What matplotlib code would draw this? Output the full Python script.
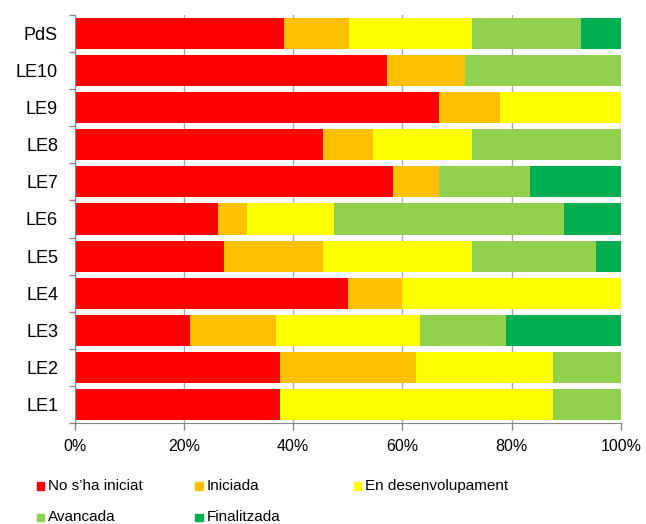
import numpy as np
import matplotlib
matplotlib.use("Agg")
from matplotlib import pyplot as plt
from matplotlib.patches import Rectangle

plt.rcParams['font.family'] = ['Liberation Sans', 'DejaVu Sans']

# categories from bottom to top
categories = ['LE1', 'LE2', 'LE3', 'LE4', 'LE5', 'LE6', 'LE7', 'LE8', 'LE9', 'LE10', 'PdS']
series = ['No s\u2019ha iniciat', 'Iniciada', 'En desenvolupament', 'Avancada', 'Finalitzada']
colors = ['#FF0000', '#FFC000', '#FFFF00', '#92D050', '#00B050']

no_iniciat = [37.5, 37.5, 21.1, 50.0, 27.3, 26.3, 58.3, 45.5, 66.7, 57.1, 38.3]
iniciada = [0.0, 25.0, 15.8, 10.0, 18.2, 5.3, 8.3, 9.1, 11.1, 14.3, 12.0]
desenvolupament = [50.0, 25.0, 26.3, 40.0, 27.3, 15.8, 0.0, 18.2, 22.2, 0.0, 22.4]
avancada = [12.5, 12.5, 15.8, 0.0, 22.7, 42.1, 16.7, 27.3, 0.0, 28.6, 20.0]
finalitzada = [0.0, 0.0, 21.1, 0.0, 4.5, 10.5, 16.7, 0.0, 0.0, 0.0, 7.3]
x_ticks = [0, 20, 40, 60, 80, 100]

values = [no_iniciat, iniciada, desenvolupament, avancada, finalitzada]

fig = plt.figure(figsize=(6.46, 5.24), dpi=100)
ax = fig.add_axes([0.1156, 0.1922, 0.8457, 0.7798])

y = np.arange(len(categories))
left = np.zeros(len(categories))
for vals, col, name in zip(values, colors, series):
    ax.barh(y, vals, left=left, height=0.84, color=col, label=name, zorder=2)
    left = left + np.array(vals)

ax.set_xlim(0, 100)
ax.set_ylim(-0.5, len(categories) - 0.5)
ax.set_xticks(x_ticks)
ax.set_xticklabels(['%d%%' % t for t in x_ticks], fontsize=11.5)
ax.set_yticks(y)
ax.set_yticklabels(categories, fontsize=13)
ax.set_yticks(np.arange(-0.5, len(categories)), minor=True)
ax.tick_params(axis='y', which='major', length=0, pad=12)
ax.tick_params(axis='y', which='minor', length=4, color='#888888', width=1)
ax.tick_params(axis='x', which='major', length=5, color='#888888', width=1, pad=6)
ax.grid(axis='x', color='#aaaaaa', linewidth=1, zorder=0)
ax.set_axisbelow(True)
for s in ['top', 'right']:
    ax.spines[s].set_visible(False)
for s in ['left', 'bottom']:
    ax.spines[s].set_color('#888888')

# legend laid out like the original, row by row with equal column widths
W, H = 646.0, 524.0
for i, (name, col) in enumerate(zip(series, colors)):
    cx = 36.7 + (i % 3) * 158.7
    cy = 486.0 + (i // 3) * 31.3
    fig.add_artist(Rectangle((cx / W, 1 - (cy + 3.7) / H), 7.3 / W, 7.3 / H,
                             transform=fig.transFigure, color=col))
    fig.text((cx + 11) / W, 1 - cy / H, name, fontsize=11, va='center', ha='left')

plt.savefig('out.png', dpi=100)
